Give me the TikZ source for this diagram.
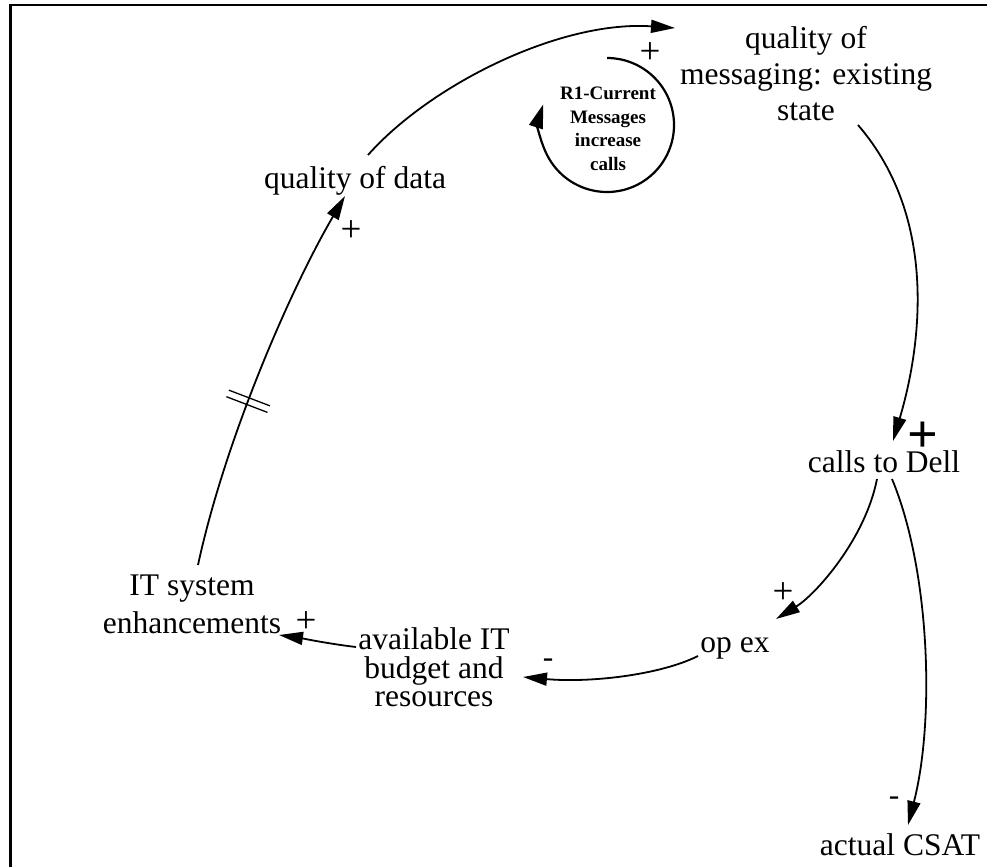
\documentclass[tikz,border=0pt]{standalone}
\usepackage{fontspec}
\setmainfont{Liberation Serif}
\usetikzlibrary{arrows.meta,decorations.markings}
\begin{document}
\begin{tikzpicture}[x=1pt,y=1pt,
  lbl/.style={inner sep=0pt, font=\fontsize{31.5}{36}\selectfont},
  conn/.style={line width=1.8pt, -{Triangle[length=24pt,width=13pt]}},
  pm/.style={inner sep=0pt, font=\fontsize{37}{40}\selectfont},
  mn/.style={inner sep=0pt, font=\fontsize{31.5}{36}\selectfont},
  hashmark/.style={postaction={decorate}, decoration={markings, mark=at position 0.43 with {\draw[line width=1.3pt,-] (-3.5,-22)--(-3.5,22) (3.5,-22)--(3.5,22);}}}
]
\useasboundingbox (0,0) rectangle (987,-867);
\draw[line width=2.6pt] (10.5,-867) -- (10.5,-5) -- (987,-5);

% variables
\node[lbl, anchor=base] (qd) at (355,-188) {quality of data};
\node[lbl, anchor=north, align=center] (qm) at (806,-26) {quality of\\messaging: existing\\state};
\node[lbl, anchor=base] (cd) at (884,-472) {calls to Dell};
\node[lbl, anchor=base] (ox) at (735,-652) {op ex};
\node[lbl, anchor=base] (cs) at (900,-855) {actual CSAT};
\node[lbl, anchor=north, align=center, font=\fontsize{31.5}{38}\selectfont] (it) at (192,-575) {IT system\\enhancements};
\node[lbl, anchor=north, align=center, font=\fontsize{31.5}{28.5}\selectfont] (av) at (434,-627.5) {available IT\\budget and\\resources};

% loop label
\node[inner sep=0pt, anchor=north, align=center, font=\fontsize{19}{23.5}\selectfont\bfseries] (r1) at (608,-87) {R1-Current\\Messages\\increase\\calls};
\draw[line width=2.2pt, -{Triangle[length=24pt,width=14pt]}] (607,-58) arc[start angle=90, end angle=-198, radius=67];

% connectors
\draw[conn] ([xshift=13pt,yshift=33pt]qd.base) .. controls +(62,70) and +(-115,8) .. ([xshift=-131pt,yshift=-2pt]qm.north);
\draw[conn, hashmark] ([xshift=6pt,yshift=10pt]it.north) .. controls +(27,125) and +(-55,-94) .. ([xshift=-10pt,yshift=-8pt]qd.base);
\draw[conn] ([xshift=52pt,yshift=-99pt]qm.north) .. controls +(82,-95) and +(27,91) .. ([xshift=9pt,yshift=31pt]cd.base);
\draw[conn] ([xshift=-7pt,yshift=-7pt]cd.base) .. controls +(-12,-61) and +(39,24) .. ([xshift=41pt,yshift=33pt]ox.base);
\draw[conn] ([xshift=8pt,yshift=-7pt]cd.base) .. controls +(38,-91) and +(27,105) .. ([xshift=8pt,yshift=30pt]cs.base);
\draw[conn] ([xshift=-37pt,yshift=-4pt]ox.base) .. controls +(-38,-19) and +(67,-6) .. ([xshift=89pt,yshift=-49.5pt]av.north);
\draw[conn] ([xshift=-78pt,yshift=-19.5pt]av.north) .. controls +(-26,3) and +(21,-3) .. ([xshift=87pt,yshift=-60pt]it.north);

% polarity labels
\node[pm] (p1) at (650,-53) {+};
\node[pm] (p2) at (351,-231) {+};
\node[pm] (p3) at (306,-622) {+};
\node[mn] (m1) at (548,-663) {-};
\node[pm] (p4) at (783,-593) {+};
\node[mn] (m2) at (894,-801) {-};
\node[inner sep=0pt, font=\fontsize{54}{54}\selectfont\bfseries] (p5) at (923,-437) {+};
\end{tikzpicture}
\end{document}
